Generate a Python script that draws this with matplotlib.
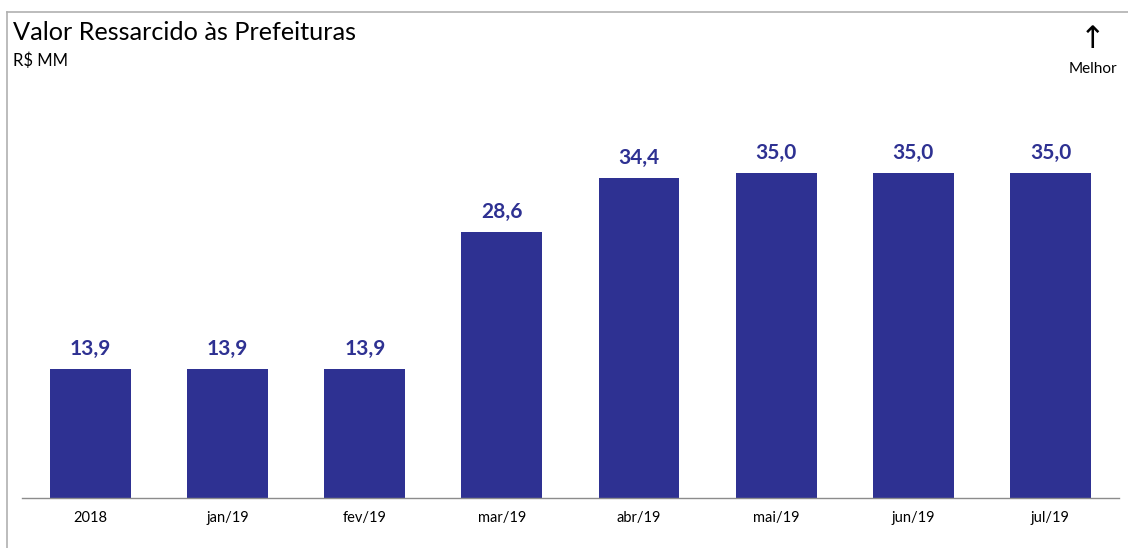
import matplotlib
matplotlib.use('Agg')
import matplotlib.pyplot as plt
from matplotlib.lines import Line2D
import numpy as np

categories = ['2018', 'jan/19', 'fev/19', 'mar/19', 'abr/19', 'mai/19', 'jun/19', 'jul/19']
values = [13.9, 13.9, 13.9, 28.6, 34.4, 35.0, 35.0, 35.0]

plt.rcParams['font.family'] = ['Lato', 'DejaVu Sans']

fig = plt.figure(figsize=(11.28, 5.48), dpi=100)
ax = fig.add_axes([0.0195, 0.0912, 0.9725, 0.7263])

x = np.arange(len(categories))
ax.bar(x, values, width=0.59, color='#2E3192', zorder=2)
for xi, v in zip(x, values):
    ax.annotate(f'{v:.1f}'.replace('.', ','), (xi, v), xytext=(0, 7), textcoords='offset points',
                ha='center', va='bottom', fontsize=15, fontweight='bold', color='#2E3192')

ax.set_xlim(-0.5, len(categories) - 0.5)
ax.set_ylim(0, 42.8)
ax.set_xticks(x)
ax.set_xticklabels(categories, fontsize=10.5)
ax.tick_params(axis='x', length=0, pad=9)
ax.set_yticks([])
for s in ['top', 'right', 'left']:
    ax.spines[s].set_visible(False)
ax.spines['bottom'].set_color('#8c8c8c')
ax.spines['bottom'].set_linewidth(1)

# chart frame (left and top edges)
fig.add_artist(Line2D([7 / 1128, 7 / 1128], [0, 1 - 12 / 548], color='#b0b0b0', lw=1.2))
fig.add_artist(Line2D([7 / 1128, 1], [1 - 12 / 548, 1 - 12 / 548], color='#b0b0b0', lw=1.2))

fig.text(13 / 1128, 1 - 33 / 548, 'Valor Ressarcido às Prefeituras', fontsize=18.2, va='center', ha='left')
fig.text(13 / 1128, 1 - 61 / 548, 'R$ MM', fontsize=12, va='center', ha='left')
fig.text(1093 / 1128, 1 - 40 / 548, '↑', fontsize=22, va='center', ha='center',
         family='DejaVu Sans')
fig.text(1093 / 1128, 1 - 69 / 548, 'Melhor', fontsize=11, va='center', ha='center')

plt.savefig('out.png', dpi=100)
plt.close()
